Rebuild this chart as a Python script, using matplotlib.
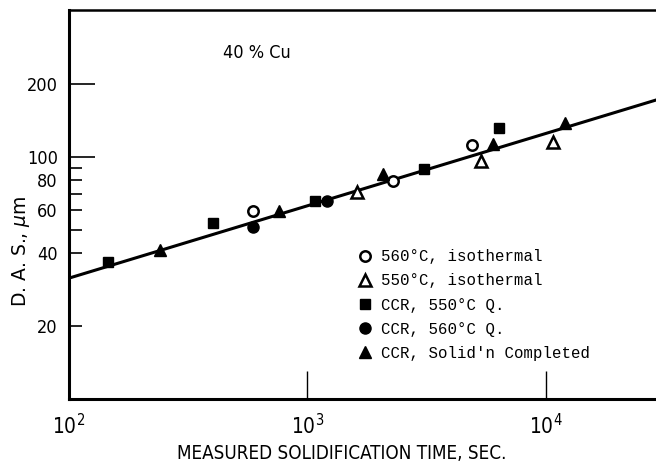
import matplotlib
matplotlib.use("Agg")
import matplotlib.pyplot as plt
from matplotlib.ticker import FixedLocator, FixedFormatter, NullLocator

# solidification time (s) and dendrite arm spacing (um)
iso560_t = [593, 2290, 4875]
iso560_das = [59.7, 79.3, 111.5]

iso550_t = [1618, 5320, 10740]
iso550_das = [71.6, 95.8, 115]

ccr550_t = [146, 403, 1074, 3078, 6370]
ccr550_das = [36.8, 53, 65.6, 88.5, 131]

ccr560_t = [593, 1203]
ccr560_das = [51.4, 65.6]

ccr_done_t = [241, 762, 2066, 6013, 12020]
ccr_done_das = [41, 59.7, 84.5, 113, 137]

# fitted line end points
fit_t = [100, 28900]
fit_das = [31.5, 171]

legend_labels = ["560\u00b0C, isothermal", "550\u00b0C, isothermal", "CCR, 550\u00b0C Q.",
                 "CCR, 560\u00b0C Q.", "CCR, Solid'n Completed"]

y_major = [20, 40, 60, 80, 100, 200]
y_major_labels = ["20", "40", "60", "80", "100", "200"]
y_minor = [50, 70, 90]
x_major = [100, 1000, 10000]
x_major_labels = [r"$\mathregular{10^{2}}$", r"$\mathregular{10^{3}}$", r"$\mathregular{10^{4}}$"]

SANS = ["DejaVu Sans"]
MONO = ["Liberation Mono", "DejaVu Sans Mono"]
sans_kw = dict(family=SANS, stretch="condensed")

fig = plt.figure(figsize=(6.56, 4.66), dpi=100)
ax = fig.add_axes([0.105, 0.1438, 0.895, 0.8347])

ax.plot(fit_t, fit_das, color="black", lw=2.2, zorder=2)

ms = 7.5
h1, = ax.plot(iso560_t, iso560_das, "o", ms=ms, mfc="white", mec="black", mew=1.8, ls="none", zorder=3)
h2, = ax.plot(iso550_t, iso550_das, "^", ms=ms + 1, mfc="white", mec="black", mew=1.8, ls="none", zorder=3)
h3, = ax.plot(ccr550_t, ccr550_das, "s", ms=ms, color="black", ls="none", zorder=3)
h4, = ax.plot(ccr560_t, ccr560_das, "o", ms=ms + 0.5, color="black", ls="none", zorder=3)
h5, = ax.plot(ccr_done_t, ccr_done_das, "^", ms=ms + 1.5, color="black", ls="none", zorder=3)

ax.set_xscale("log")
ax.set_yscale("log")
ax.set_xlim(100, 28900)
ax.set_ylim(10, 402)

ax.xaxis.set_major_locator(FixedLocator(x_major))
ax.xaxis.set_major_formatter(FixedFormatter(x_major_labels))
ax.xaxis.set_minor_locator(NullLocator())
ax.yaxis.set_major_locator(FixedLocator(y_major))
ax.yaxis.set_major_formatter(FixedFormatter(y_major_labels))
ax.yaxis.set_minor_locator(FixedLocator(y_minor))

ax.tick_params(axis="x", which="major", direction="in", length=20, width=1.0, pad=10)
ax.tick_params(axis="y", which="both", direction="in", length=9, width=1.2, pad=8)
for lbl in ax.get_xticklabels():
    lbl.set_family(SANS)
    lbl.set_stretch("condensed")
    lbl.set_fontsize(15)
for lbl in ax.get_yticklabels():
    lbl.set_family(SANS)
    lbl.set_stretch("condensed")
    lbl.set_fontsize(13)
# longer ticks at 100 and 200
for tick, val in zip(ax.yaxis.get_major_ticks(), y_major):
    if val >= 100:
        tick.tick1line.set_markersize(19)

ax.spines["right"].set_visible(False)
ax.spines["left"].set_linewidth(2.2)
ax.spines["bottom"].set_linewidth(2.2)
ax.spines["top"].set_linewidth(1.8)

ax.set_xlabel("MEASURED SOLIDIFICATION TIME, SEC.", fontsize=13.5, **sans_kw)
ax.xaxis.set_label_coords(0.465, -0.115)
ax.set_ylabel("D. A. S., $\\mu$m", fontsize=13.5, family=SANS)
ax.yaxis.set_label_coords(-0.063, 0.38)

ax.text(0.32, 0.889, "40 % Cu", transform=ax.transAxes, ha="center", va="center",
        fontsize=13, **sans_kw)

ax.legend([h1, h2, h3, h4, h5], legend_labels, loc="upper left", bbox_to_anchor=(0.483, 0.405),
          frameon=False, prop={"family": MONO, "size": 11.3}, handlelength=0.6,
          handletextpad=0.75, labelspacing=0.58, borderpad=0)

fig.savefig("out.png", dpi=100)
